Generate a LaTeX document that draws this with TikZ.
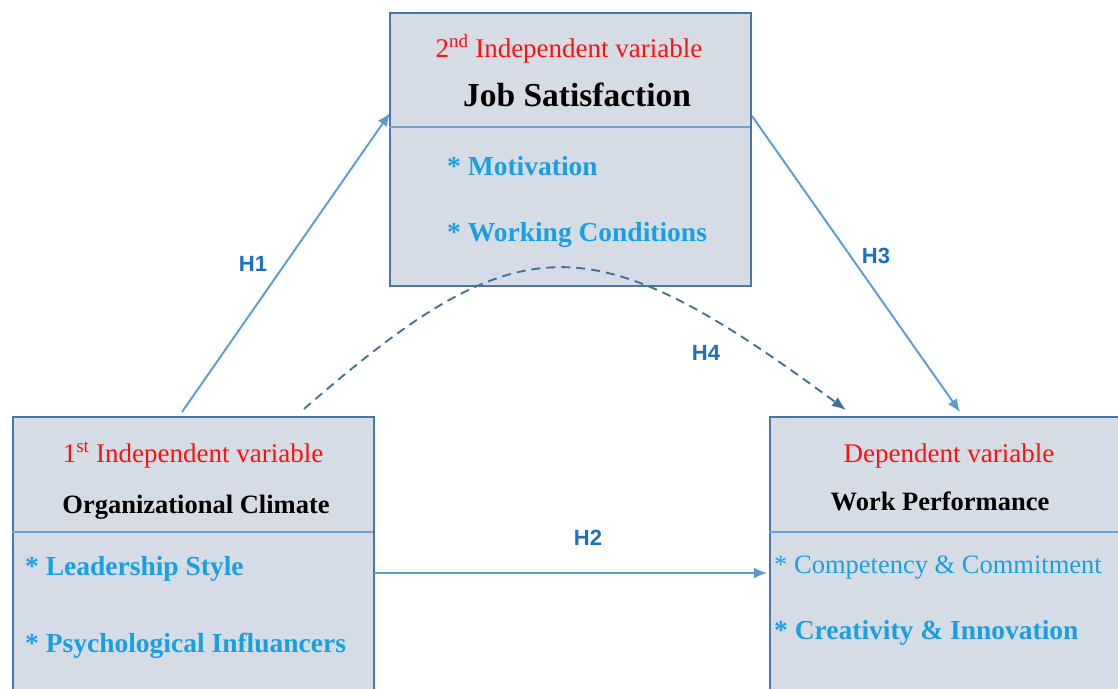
\documentclass[tikz,border=0pt]{standalone}
\usepackage{fontspec}
\setmainfont{Liberation Serif}
\newfontfamily\labfont{Liberation Sans}
\usetikzlibrary{arrows.meta}
\definecolor{boxfill}{HTML}{D6DCE5}
\definecolor{boxline}{HTML}{4A76A6}
\definecolor{divline}{HTML}{6FA0D8}
\definecolor{itemcol}{HTML}{19A0E0}
\definecolor{arrcol}{HTML}{5B9BD5}
\definecolor{dashcol}{HTML}{41719C}
\definecolor{labcol}{HTML}{1A70C4}
\definecolor{redcol}{HTML}{FF1010}
\tikzset{
  varbox/.style={draw=boxline, line width=2.4pt, fill=boxfill, rectangle, anchor=north west, inner sep=0pt},
  divider/.style={draw=divline, line width=1.4pt},
  redtxt/.style={text=redcol, font=\fontsize{27}{31}\selectfont, anchor=base, inner sep=0pt},
  titletxt/.style={text=black, font=\fontsize{26.5}{30}\selectfont\bfseries, anchor=base, inner sep=0pt},
  itemtxt/.style={text=itemcol, font=\fontsize{27.5}{31}\selectfont\bfseries, anchor=base west, inner sep=0pt},
  itemreg/.style={text=itemcol, font=\fontsize{26.5}{30}\selectfont, anchor=base west, inner sep=0pt},
  hyp/.style={draw=arrcol, line width=1.9pt, -{Latex[length=13pt,width=11pt]}},
  hypdash/.style={draw=dashcol, line width=1.9pt, dash pattern=on 9pt off 6pt, -{Latex[length=14pt,width=11pt]}},
  hlab/.style={text=labcol, font=\fontsize{22}{26}\selectfont\labfont\bfseries, inner sep=0pt}
}
\begin{document}
\begin{tikzpicture}[x=1pt,y=-1pt]
\useasboundingbox (0,0) rectangle (1118,688);
\clip (0,0) rectangle (1118,688);
% boxes
\node[varbox, minimum width=361pt, minimum height=273pt] (top) at (389,12) {};
\node[varbox, minimum width=361pt, minimum height=300pt] (left) at (12,416) {};
\node[varbox, minimum width=370pt, minimum height=300pt] (right) at (769,416) {};
\coordinate (tdl) at (389,127); \coordinate (tdr) at (750,127);
\coordinate (ldl) at (12,532); \coordinate (ldr) at (373,532);
\coordinate (rdl) at (769,532); \coordinate (rdr) at (1130,532);
\draw[divider] (tdl) -- (tdr);
\draw[divider] (ldl) -- (ldr);
\draw[divider] (rdl) -- (rdr);
% top box texts
\node[redtxt] (t1) at (569,57) {2\textsuperscript{nd} Independent variable};
\node[titletxt, font=\fontsize{33.5}{37}\selectfont\bfseries] (t2) at (577,106) {Job Satisfaction};
\node[itemtxt] (t3) at (447,175) {* Motivation};
\node[itemtxt] (t4) at (447,241) {* Working Conditions};
% left box texts
\node[redtxt] (l1) at (193,462) {1\textsuperscript{st} Independent variable};
\node[titletxt] (l2) at (196,513) {Organizational Climate};
\node[itemtxt] (l3) at (25,575) {* Leadership Style};
\node[itemtxt] (l4) at (25,652) {* Psychological Influancers};
% right box texts
\node[redtxt] (r1) at (949,462) {Dependent variable};
\node[titletxt] (r2) at (940,510) {Work Performance};
\node[itemreg] (r3) at (774,573) {* Competency \& Commitment};
\node[itemtxt] (r4) at (774,639) {* Creativity \& Innovation};
% connector end points
\coordinate (h1s) at (182,412);
\coordinate (h1e) at (390,113);
\coordinate (h3s) at (752,116);
\coordinate (h3e) at (960,412);
\coordinate (h2s) at (374,573);
\coordinate (h2e) at (767,573);
\coordinate (h4s) at (304,409);
\coordinate (h4e) at (846,410);
\draw[hyp] (h1s) -- (h1e);
\draw[hyp] (h3s) -- (h3e);
\draw[hyp] (h2s) -- (h2e);
\draw[hypdash] (h4s) .. controls (520,221) and (590,221) .. (h4e);
% labels
\node[hlab] (lab1) at (253,264) {H1};
\node[hlab] (lab3) at (876,256) {H3};
\node[hlab] (lab2) at (588,538) {H2};
\node[hlab] (lab4) at (706,353) {H4};
\end{tikzpicture}
\end{document}
